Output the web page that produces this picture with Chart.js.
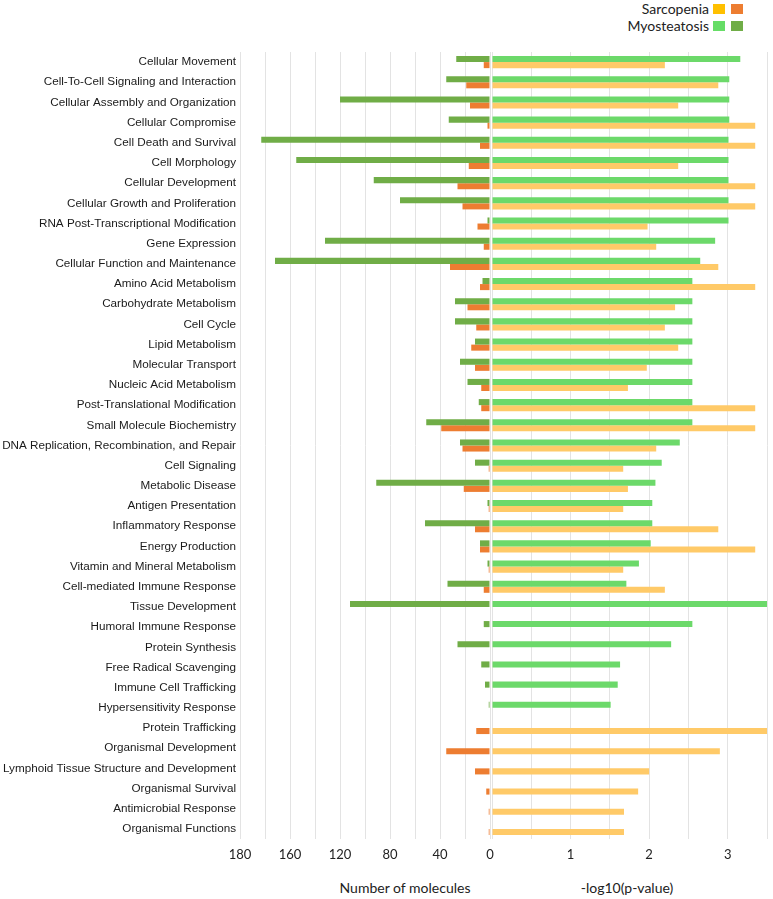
<!DOCTYPE html>
<html>
<head>
<meta charset="utf-8">
<script src="https://cdn.jsdelivr.net/npm/chart.js@4.4.1/dist/chart.umd.min.js"></script>
<style>
  body { margin: 0; background: #fff; }
  #wrap { position: relative; width: 773px; height: 899px; overflow: hidden; font-family: Lato, 'Open Sans', sans-serif; color: #222; }
  #leftChart { position: absolute; left: 0; top: 0; z-index: 2; }
  #rightChart { position: absolute; left: 490px; top: 0; z-index: 1; }
  .axis-title { position: absolute; top: 879px; font-size: 14px; line-height: 18px; transform: translateX(-50%); white-space: nowrap; }
  .legend-text { position: absolute; right: 64px; font-size: 14px; line-height: 18px; white-space: nowrap; }
  .swatch { position: absolute; width: 12px; height: 10px; }
</style>
</head>
<body>
<div id="wrap">
  <canvas id="rightChart" width="283" height="899"></canvas>
  <canvas id="leftChart" width="505" height="899"></canvas>

  <div class="legend-text" style="top:0px;">Sarcopenia</div>
  <div class="swatch" style="left:713px; top:4px; background:#ffc000;"></div>
  <div class="swatch" style="left:731px; top:4px; background:#ed7d31;"></div>
  <div class="legend-text" style="top:17px;">Myosteatosis</div>
  <div class="swatch" style="left:713px; top:21px; background:#66dd66;"></div>
  <div class="swatch" style="left:731px; top:21px; background:#70ad47;"></div>

  <div class="axis-title" style="left:405px;">Number of molecules</div>
  <div class="axis-title" style="left:627px;">-log10(p-value)</div>
</div>

<script>
// Categories (top to bottom)
const categories = [
    'Cellular Movement',
    'Cell-To-Cell Signaling and Interaction',
    'Cellular Assembly and Organization',
    'Cellular Compromise',
    'Cell Death and Survival',
    'Cell Morphology',
    'Cellular Development',
    'Cellular Growth and Proliferation',
    'RNA Post-Transcriptional Modification',
    'Gene Expression',
    'Cellular Function and Maintenance',
    'Amino Acid Metabolism',
    'Carbohydrate Metabolism',
    'Cell Cycle',
    'Lipid Metabolism',
    'Molecular Transport',
    'Nucleic Acid Metabolism',
    'Post-Translational Modification',
    'Small Molecule Biochemistry',
    'DNA Replication, Recombination, and Repair',
    'Cell Signaling',
    'Metabolic Disease',
    'Antigen Presentation',
    'Inflammatory Response',
    'Energy Production',
    'Vitamin and Mineral Metabolism',
    'Cell-mediated Immune Response',
    'Tissue Development',
    'Humoral Immune Response',
    'Protein Synthesis',
    'Free Radical Scavenging',
    'Immune Cell Trafficking',
    'Hypersensitivity Response',
    'Protein Trafficking',
    'Organismal Development',
    'Lymphoid Tissue Structure and Development',
    'Organismal Survival',
    'Antimicrobial Response',
    'Organismal Functions'
];

// Number of molecules (left side)
const myoMolecules = [27, 35, 120, 33, 183, 155, 93, 72, 2, 132, 172, 6, 28, 28, 12, 24, 18, 9, 51, 24,
    12, 91, 2, 52, 8, 2, 34, 112, 5, 26, 7, 4, 1, null, null, null, null, null, null];
const sarcoMolecules = [5, 19, 16, 2, 8, 17, 26, 22, 10, 5, 32, 8, 18, 11, 15, 12, 7, 7, 39, 22,
    1, 21, 1, 12, 8, 1, 5, null, null, null, null, null, null, 11, 35, 12, 3, 1, 1];

// -log10(p-value) (right side)
const myoLogP = [3.16, 3.02, 3.02, 3.02, 3.01, 3.01, 3.01, 3.01, 3.01, 2.84, 2.65, 2.55, 2.55, 2.55, 2.55, 2.55, 2.55, 2.55, 2.55, 2.39,
    2.16, 2.08, 2.04, 2.04, 2.02, 1.87, 1.71, 3.5, 2.55, 2.28, 1.63, 1.60, 1.51, null, null, null, null, null, null];
const sarcoLogP = [2.20, 2.88, 2.37, 3.35, 3.35, 2.37, 3.35, 3.35, 1.98, 2.09, 2.88, 3.35, 2.33, 2.20, 2.37, 1.97, 1.73, 3.35, 3.35, 2.09,
    1.67, 1.73, 1.67, 2.88, 3.35, 1.67, 2.20, null, null, null, null, null, null, 3.5, 2.90, 2.0, 1.86, 1.68, 1.68];

// Tick labels as printed under each axis
const moleculeTicks = [0, 40, 80, 120, 160, 200];
const moleculeTickLabels = ['0', '40', '80', '120', '160', '180'];
const pValueTicks = [1, 2, 3];
const pValueTickLabels = ['1', '2', '3'];

const gridColor = '#e3e3e3';
const tickFont = { family: 'Lato', size: 13 };

// Left chart: number of molecules, reversed
new Chart(document.getElementById('leftChart'), {
    type: 'bar',
    data: {
        labels: categories,
        datasets: [
            { label: 'Myosteatosis', data: myoMolecules, backgroundColor: '#70ad47' },
            { label: 'Sarcopenia', data: sarcoMolecules, backgroundColor: '#ed7d31' }
        ]
    },
    options: {
        indexAxis: 'y',
        responsive: false,
        animation: false,
        layout: { padding: { top: 52, right: 15, left: 0, bottom: 0 } },
        datasets: { bar: { categoryPercentage: 0.6, barPercentage: 1 } },
        plugins: { legend: { display: false }, tooltip: { enabled: false } },
        scales: {
            y: {
                afterFit: function(scale) { scale.width = 240; },
                grid: { display: false, drawTicks: false },
                border: { display: false },
                ticks: {
                    autoSkip: false,
                    padding: 4,
                    color: '#1a1a1a',
                    font: { family: 'Liberation Sans', size: 11.7 }
                }
            },
            x: {
                reverse: true,
                min: 0,
                max: 200,
                afterFit: function(scale) {
                    scale.height = 60;
                    scale.paddingLeft = 0;
                    scale.paddingRight = 0;
                },
                grid: { color: gridColor, drawTicks: false },
                border: { display: false },
                ticks: {
                    stepSize: 20,
                    autoSkip: false,
                    maxRotation: 0,
                    padding: 8,
                    color: '#222',
                    font: tickFont,
                    callback: function(value) {
                        const i = moleculeTicks.indexOf(value);
                        return i >= 0 ? moleculeTickLabels[i] : '';
                    }
                }
            }
        }
    }
});

// Right chart: -log10(p-value)
new Chart(document.getElementById('rightChart'), {
    type: 'bar',
    data: {
        labels: categories,
        datasets: [
            { label: 'Myosteatosis', data: myoLogP, backgroundColor: '#6cd96a' },
            { label: 'Sarcopenia', data: sarcoLogP, backgroundColor: '#ffca68' }
        ]
    },
    options: {
        indexAxis: 'y',
        responsive: false,
        animation: false,
        layout: { padding: { top: 52, right: 6, left: 2, bottom: 0 } },
        datasets: { bar: { categoryPercentage: 0.6, barPercentage: 1 } },
        plugins: { legend: { display: false }, tooltip: { enabled: false } },
        scales: {
            y: { display: false },
            x: {
                min: 0,
                max: 3.5,
                afterFit: function(scale) {
                    scale.height = 60;
                    scale.paddingLeft = 0;
                    scale.paddingRight = 0;
                },
                grid: { color: gridColor, drawTicks: false },
                border: { display: false },
                ticks: {
                    stepSize: 0.5,
                    autoSkip: false,
                    maxRotation: 0,
                    padding: 8,
                    color: '#222',
                    font: tickFont,
                    callback: function(value) {
                        const i = pValueTicks.indexOf(value);
                        return i >= 0 ? pValueTickLabels[i] : '';
                    }
                }
            }
        }
    }
});
</script>
</body>
</html>
